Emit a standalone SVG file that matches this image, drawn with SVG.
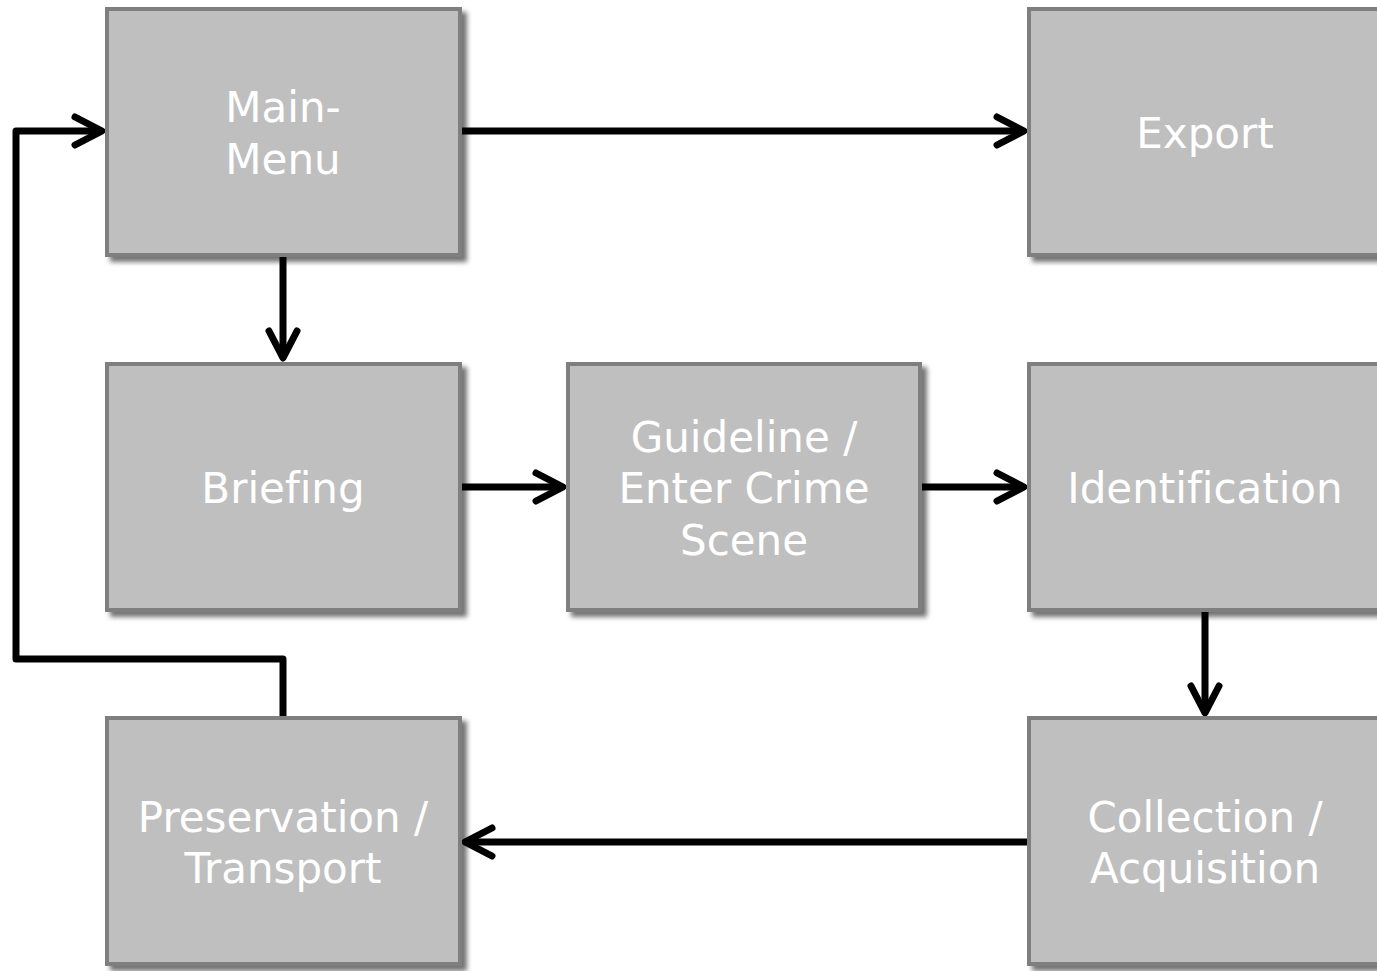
<svg xmlns="http://www.w3.org/2000/svg" width="1377" height="971" viewBox="0 0 1377 971">
<style>
.box{fill:#bfbfbf;stroke:#7f7f7f;stroke-width:4;filter:url(#sh)}
.lbl{font-family:"DejaVu Sans",Verdana,sans-serif;font-size:42px;fill:#ffffff;text-anchor:middle;font-variant-ligatures:none}
.con{fill:none;stroke:#000;stroke-width:7;stroke-linejoin:round}
.head{fill:none;stroke:#000;stroke-width:7;stroke-linecap:round;stroke-linejoin:round}
</style>
<defs>
<filter id="sh" x="-5%" y="-5%" width="115%" height="115%">
<feDropShadow dx="5" dy="5" stdDeviation="2.5" flood-color="#000" flood-opacity="0.55"/>
</filter>
</defs>
<rect width="1377" height="971" fill="#ffffff"/>
<g id="connectors">
<path class="con" d="M461 131 H1024"/>
<path class="head" d="M997 117 L1024 131 L997 145"/>
<path class="con" d="M283 256 V358"/>
<path class="head" d="M269 331 L283 358 L297 331"/>
<path class="con" d="M461 487 H563"/>
<path class="head" d="M536 473 L563 487 L536 501"/>
<path class="con" d="M920 487 H1024"/>
<path class="head" d="M997 473 L1024 487 L997 501"/>
<path class="con" d="M1205 612 V713"/>
<path class="head" d="M1191 686 L1205 713 L1219 686"/>
<path class="con" d="M1028 842 H465"/>
<path class="head" d="M492 828 L465 842 L492 856"/>
<path class="con" d="M283 717 V659 H16 V131 H102"/>
<path class="head" d="M75 117 L102 131 L75 145"/>
</g>
<g id="main-menu">
<rect class="box" x="107" y="9" width="353" height="246"/>
<text class="lbl" x="283" y="122">Main-</text>
<text class="lbl" x="283" y="174">Menu</text>
</g>
<g id="export">
<rect class="box" x="1029" y="9" width="353" height="246"/>
<text class="lbl" x="1205" y="148">Export</text>
</g>
<g id="briefing">
<rect class="box" x="107" y="364" width="353" height="246"/>
<text class="lbl" x="283" y="503">Briefing</text>
</g>
<g id="guideline">
<rect class="box" x="568" y="364" width="352" height="246"/>
<text class="lbl" x="744" y="452">Guideline /</text>
<text class="lbl" x="744" y="503">Enter Crime</text>
<text class="lbl" x="744" y="555">Scene</text>
</g>
<g id="identification">
<rect class="box" x="1029" y="364" width="353" height="246"/>
<text class="lbl" x="1205" y="503">Identification</text>
</g>
<g id="preservation">
<rect class="box" x="107" y="718" width="353" height="246"/>
<text class="lbl" x="283" y="832">Preservation /</text>
<text class="lbl" x="283" y="883">Transport</text>
</g>
<g id="collection">
<rect class="box" x="1029" y="718" width="353" height="246"/>
<text class="lbl" x="1205" y="832">Collection /</text>
<text class="lbl" x="1205" y="883">Acquisition</text>
</g>
</svg>
